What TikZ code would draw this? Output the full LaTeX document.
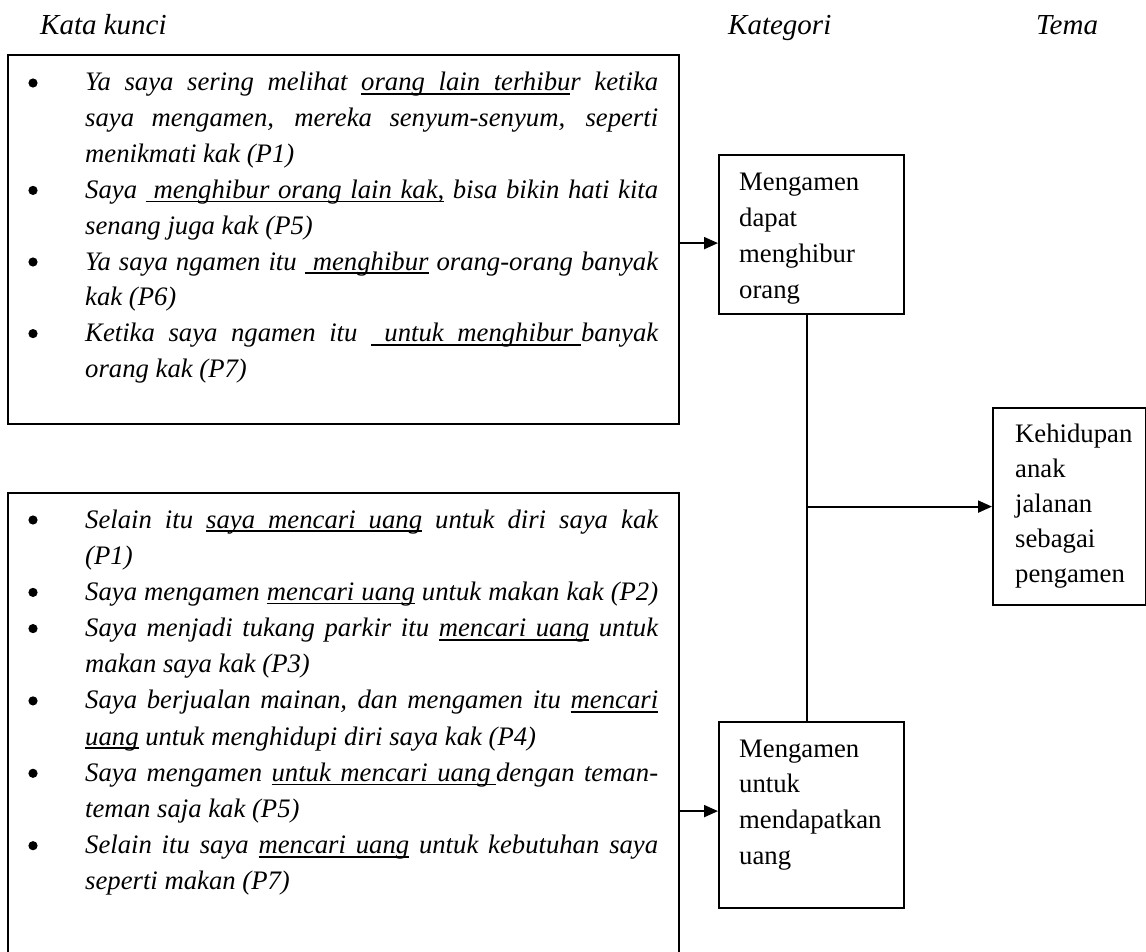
\documentclass[tikz,border=0pt]{standalone}
\usepackage{fontspec}
\setmainfont{Liberation Serif}
\usetikzlibrary{arrows.meta}
\newcommand\bodyfont{\fontsize{26.7}{32}\selectfont\itshape}
\newcommand\boxfont{\fontsize{26.7}{32}\selectfont}
\newcommand\headfont{\fontsize{29}{34}\selectfont\itshape}
% justified line of the quotation column
\newcommand\jline[1]{\makebox[573pt][s]{#1}}
% underlined word, underlined stretchable space, underlined fixed gap
\newcommand\ulw[1]{\setbox0=\hbox{#1}\rlap{\vrule width\wd0 height -2.2pt depth 4pt}\box0\relax}
\newcommand\uls{\leaders\hrule height -2.2pt depth 4pt\hskip\fontdimen2\font plus\fontdimen3\font minus\fontdimen4\font\relax}
\newcommand\ulg[1]{\leaders\hrule height -2.2pt depth 4pt\hskip #1\relax}
\begin{document}
\begin{tikzpicture}[x=1pt,y=-1pt,
  frame/.style={draw, line width=2.2pt, inner sep=0pt, anchor=north west},
  body/.style={anchor=base west, inner sep=0pt, font=\bodyfont},
  boxtxt/.style={anchor=base west, inner sep=0pt, font=\boxfont},
  head/.style={anchor=base west, inner sep=0pt, font=\headfont},
  link/.style={line width=2pt},
  arr/.style={line width=2pt, -{Triangle[length=14pt,width=12pt]}},
  dot/.style={fill=black}]
\useasboundingbox (0,0) rectangle (1146,952);
\clip (0,0) rectangle (1146,952);

% column headings
\node[head] (h1) at (40,35) {Kata kunci};
\node[head] (h2) at (728,35) {Kategori};
\node[head] (h3) at (1036,35) {Tema};

% frames
\node[frame, minimum width=671pt, minimum height=369pt] (kw1) at (7,54) {};
\node[frame, minimum width=671pt, minimum height=636pt] (kw2) at (7,492) {};
\node[frame, minimum width=185pt, minimum height=159pt] (cat1) at (718,154) {};
\node[frame, minimum width=185pt, minimum height=186pt] (cat2) at (718,721) {};
\node[frame, minimum width=153pt, minimum height=197pt] (tema) at (992,407) {};

% first group of quotations
\foreach \b in {91, 198.4, 270, 341.6}
  \fill[dot] (33,\b-8) circle (4.6);
\node[body] (a1) at (85,91)    {\jline{Ya saya sering melihat \ulw{orang}\uls\ulw{lain}\uls\ulw{terhibu}r ketika}};
\node[body] (a2) at (85,126.8) {\jline{saya mengamen, mereka senyum-senyum, seperti}};
\node[body] (a3) at (85,162.6) {menikmati kak (P1)};
\node[body] (a4) at (85,198.4) {\jline{Saya \ulg{.3em}\ulw{menghibur}\uls\ulw{orang}\uls\ulw{lain}\uls\ulw{kak,} bisa bikin hati kita}};
\node[body] (a5) at (85,234.2) {senang juga kak (P5)};
\node[body] (a6) at (85,270)   {\jline{Ya saya ngamen itu \ulg{.3em}\ulw{menghibur} orang-orang banyak}};
\node[body] (a7) at (85,305.8) {kak (P6)};
\node[body] (a8) at (85,341.6) {\jline{Ketika saya ngamen itu \ulg{.5em}\ulw{untuk}\uls\ulw{menghibur}\ulg{.3em}banyak}};
\node[body] (a9) at (85,377.4) {orang kak (P7)};

% second group of quotations
\foreach \b in {528, 600.4, 636.6, 708.9, 781.3, 853.7}
  \fill[dot] (33,\b-8) circle (4.6);
\node[body] (b1)  at (85,528)   {\jline{Selain itu \ulw{saya}\uls\ulw{mencari}\uls\ulw{uang} untuk diri saya kak}};
\node[body] (b2)  at (85,564.2) {(P1)};
\node[body] (b3)  at (85,600.4) {\jline{Saya mengamen \ulw{mencari}\uls\ulw{uang} untuk makan kak (P2)}};
\node[body] (b4)  at (85,636.6) {\jline{Saya menjadi tukang parkir itu \ulw{mencari}\uls\ulw{uang} untuk}};
\node[body] (b5)  at (85,672.7) {makan saya kak (P3)};
\node[body] (b6)  at (85,708.9) {\jline{Saya berjualan mainan, dan mengamen itu \ulw{mencari}}};
\node[body] (b7)  at (85,745.1) {\ulw{uang} untuk menghidupi diri saya kak (P4)};
\node[body] (b8)  at (85,781.3) {\jline{Saya mengamen \ulw{untuk}\uls\ulw{mencari}\uls\ulw{uang}\ulg{.2em}dengan teman-}};
\node[body] (b9)  at (85,817.5) {teman saja kak (P5)};
\node[body] (b10) at (85,853.7) {\jline{Selain itu saya \ulw{mencari}\uls\ulw{uang} untuk kebutuhan saya}};
\node[body] (b11) at (85,889.9) {seperti makan (P7)};

% category labels
\foreach \t [count=\i] in {Mengamen, dapat, menghibur, orang}
  \node[boxtxt] (c1-\i) at (739,{191+35.7*(\i-1)}) {\t};
\foreach \t [count=\i] in {Mengamen, untuk, mendapatkan, uang}
  \node[boxtxt] (c2-\i) at (739,{757+35.7*(\i-1)}) {\t};

% theme label
\foreach \t [count=\i] in {Kehidupan, anak, jalanan, sebagai, pengamen}
  \node[boxtxt] (t-\i) at (1015,{442+35.2*(\i-1)}) {\t};

% connectors
\coordinate (j1) at ([xshift=-4.5pt]cat1.south);
\coordinate (j2) at ([xshift=-4.5pt]cat2.north);
\coordinate (jm) at (j1 |- tema.west);
\draw[arr] ([yshift=-3.5pt]kw1.east) -- ([yshift=-3.5pt]kw1.east -| cat1.west);
\draw[arr] (kw2.east) -- (kw2.east -| cat2.west);
\draw[link] (j1) -- (j2);
\draw[arr] (jm) -- (tema.west);
\end{tikzpicture}
\end{document}
